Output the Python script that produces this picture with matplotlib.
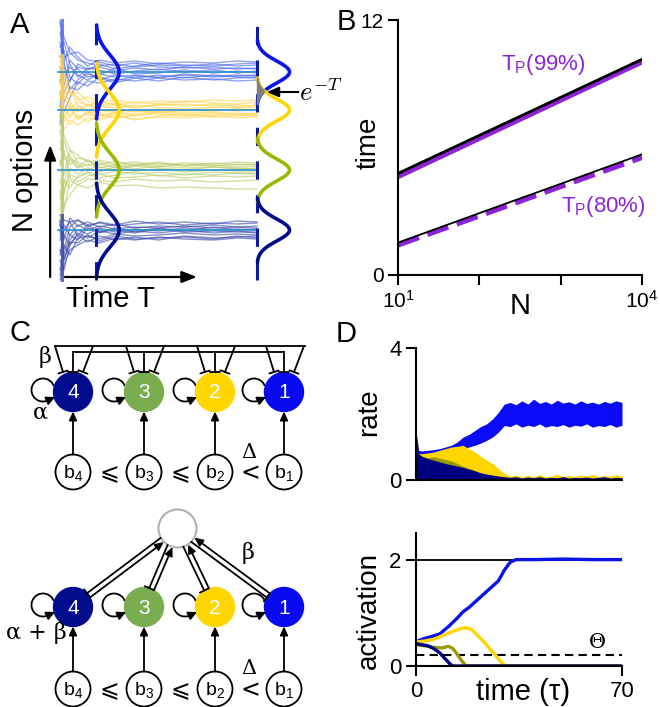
import matplotlib
matplotlib.use('Agg')
import matplotlib.pyplot as plt
import numpy as np
from matplotlib.patches import Circle, Arc
from matplotlib.ticker import NullFormatter

plt.rcParams['font.family'] = ['Liberation Sans', 'DejaVu Sans']
plt.rcParams['mathtext.fontset'] = 'custom'
plt.rcParams['mathtext.rm'] = 'Liberation Sans'
plt.rcParams['mathtext.it'] = 'Liberation Sans:italic'
plt.rcParams['axes.linewidth'] = 1.5

# ---------------- data ----------------
# panel A: noisy accumulators, offsets from each option's level
t_grid = [0, 0.02, 0.05, 0.09, 0.14, 0.2, 0.28, 0.38, 0.5, 0.63, 0.78, 0.9, 1.0]
levels = [20.8, 17.0, 11.0, 5.0]          # option 1 (top) .. option 4 (bottom)
start_spans = [(15.5, 26.0), (15.0, 22.5), (6.0, 16.5), (0.0, 6.5)]
blue_traces = [
    [5.0, 3.5, 2.0, 1.2, 0.9, 0.6, 0.8, 0.5, 0.7, 0.6, 0.8, 0.6, 0.7],
    [-4.5, -3.0, -1.5, -1.8, -0.9, -1.1, -0.7, -0.9, -0.6, -0.8, -0.7, -0.9, -0.8],
    [2.5, 3.0, 0.8, -0.5, 0.4, 0.2, -0.2, 0.1, 0.3, 0.0, 0.2, -0.1, 0.1],
    [-2.0, -4.0, -2.6, -1.0, -1.4, -0.5, -0.9, -0.4, -0.5, -0.3, -0.5, -0.4, -0.3],
    [4.0, 1.5, 1.8, 2.0, 1.2, 1.0, 0.6, 0.9, 0.5, 0.4, 0.5, 0.3, 0.4],
    [0.5, -1.5, 1.2, 0.3, -0.5, -0.3, 0.4, -0.2, -0.1, 0.2, -0.1, 0.1, -0.1],
    [-5.2, -2.0, -0.8, 0.5, 0.2, 0.8, 0.3, 0.6, 0.9, 0.7, 0.6, 0.8, 0.9],
    [1.5, 2.2, -0.5, -1.2, -0.2, -0.6, -1.1, -0.6, -0.9, -0.5, -0.8, -0.6, -0.5],
    [3.0, 0.5, -1.0, 0.8, 0.3, 0.5, 0.1, 0.4, 0.2, 0.5, 0.3, 0.4, 0.3],
    [-3.5, -0.5, 0.5, -0.3, -0.8, -0.2, -0.5, -0.3, -0.6, -0.2, -0.4, -0.3, -0.4],
    [5.2, 1.0, 2.5, 1.5, 0.6, 1.2, 0.9, 1.1, 0.8, 1.0, 0.9, 1.1, 1.0],
    [-1.0, 1.0, -1.8, -0.8, 0.0, -0.8, -0.3, -0.6, -0.3, -0.6, -0.3, -0.5, -0.6],
]
yellow_traces = [
    [5.5, 4.0, 2.5, 1.0, 1.3, 0.8, 1.0, 0.7, 0.9, 0.8, 1.0, 0.9, 1.0],
    [-1.5, -2.0, -1.0, -1.5, -0.8, -1.0, -0.6, -0.9, -0.7, -0.8, -0.6, -0.8, -0.7],
    [3.0, 1.0, 2.0, 0.5, 0.0, 0.4, 0.2, 0.5, 0.3, 0.1, 0.3, 0.2, 0.3],
    [4.5, 2.5, 0.5, -0.8, -0.3, -0.6, -0.2, -0.4, -0.1, -0.3, -0.2, -0.4, -0.3],
    [1.0, 3.0, 1.5, 1.8, 0.9, 0.5, 0.7, 0.3, 0.5, 0.6, 0.4, 0.5, 0.4],
    [2.0, -0.5, -1.5, -0.5, -1.2, -0.4, -0.8, -0.5, -0.4, -0.6, -0.5, -0.3, -0.5],
    [0.0, 1.5, 0.0, 0.8, 0.5, 0.1, -0.2, 0.0, -0.3, 0.0, -0.1, 0.1, 0.0],
    [3.8, 0.5, -0.6, 0.2, -0.5, -0.8, -0.4, -1.0, -0.6, -0.4, -0.7, -0.5, -0.6],
    [2.5, 2.0, 0.8, -0.2, 0.6, 0.3, 0.5, 0.2, 0.6, 0.4, 0.6, 0.3, 0.5],
    [-0.5, -1.2, 0.5, -1.0, -0.2, -0.5, -0.3, -0.6, -0.2, -0.5, -0.3, -0.6, -0.4],
    [5.0, 3.5, 1.8, 1.2, 0.4, 0.9, 0.5, 0.8, 0.6, 0.9, 0.7, 0.6, 0.8],
    [1.5, 0.0, -0.8, 0.4, -0.1, -0.3, 0.1, -0.2, 0.1, -0.1, 0.1, -0.1, 0.1],
]
green_traces = [
    [5.5, 3.5, 2.0, 1.5, 0.8, 1.0, 0.6, 0.8, 0.5, 0.7, 0.6, 0.8, 0.7],
    [-5.0, -3.5, -2.5, -1.5, -1.8, -1.2, -1.6, -1.5, -1.8, -1.7, -1.8, -1.9, -1.9],
    [2.0, 3.0, 1.0, 0.2, 0.6, 0.3, 0.0, 0.4, 0.2, 0.0, 0.3, 0.1, 0.2],
    [-3.0, -1.0, -1.8, -0.6, -0.3, -0.8, -0.5, -0.2, -0.6, -0.4, -0.5, -0.3, -0.4],
    [4.0, 1.5, 0.5, 1.2, 1.0, 0.5, 0.9, 0.4, 0.7, 0.4, 0.5, 0.3, 0.4],
    [-1.0, -2.5, 0.2, -0.4, 0.2, -0.2, 0.3, -0.1, 0.1, -0.2, 0.0, -0.1, -0.1],
    [0.5, 2.0, -0.8, -1.2, -0.6, -0.4, -0.8, -0.7, -0.5, -0.8, -0.6, -0.7, -0.6],
    [-4.0, -1.5, 1.2, 0.6, -0.1, 0.6, 0.2, 0.5, 0.8, 0.4, 0.7, 0.5, 0.6],
    [3.0, 1.0, 1.5, 0.3, 1.0, 0.2, 0.5, 0.1, 0.4, 0.2, 0.3, 0.2, 0.1],
    [-2.0, -4.0, -1.0, -1.5, -0.9, -1.0, -1.2, -0.9, -1.1, -1.0, -1.2, -1.1, -1.0],
    [1.0, -0.5, 2.0, 0.8, 0.4, 0.8, 0.4, 0.6, 0.3, 0.6, 0.4, 0.6, 0.5],
    [-5.5, -2.0, -0.5, -0.8, -0.2, -0.5, -0.1, -0.4, -0.2, -0.5, -0.2, -0.3, -0.3],
]
navy_traces = [
    [1.5, 1.0, 0.8, 1.0, 0.5, 0.7, 0.4, 0.6, 0.8, 0.5, 0.7, 0.6, 0.7],
    [-5.0, -3.5, -2.0, -1.5, -1.0, -1.3, -0.8, -1.0, -0.7, -0.9, -1.0, -0.8, -0.9],
    [-2.0, -3.0, -1.0, 0.0, -0.4, 0.2, -0.2, 0.1, -0.1, 0.2, 0.0, 0.1, 0.0],
    [0.5, -1.0, 1.2, 0.4, 0.8, 0.3, 0.6, 0.2, 0.4, 0.3, 0.5, 0.3, 0.4],
    [-4.0, -1.5, -2.5, -0.8, -0.6, -0.9, -0.4, -0.6, -0.5, -0.3, -0.5, -0.4, -0.5],
    [-1.0, 0.5, -0.5, -1.0, 0.2, -0.2, 0.0, -0.3, 0.1, -0.2, -0.1, -0.2, -0.2],
    [-3.0, -4.0, -1.5, -0.5, -1.2, -0.6, -1.0, -0.7, -1.0, -0.6, -0.8, -0.7, -0.6],
    [0.0, -2.0, 0.3, 1.0, 0.3, 0.8, 0.5, 0.9, 0.6, 0.8, 0.6, 0.9, 0.8],
    [1.0, -0.5, -1.5, -0.3, -0.8, -0.1, -0.4, -0.1, -0.3, 0.0, -0.3, -0.1, -0.3],
    [-4.5, -2.5, -0.5, 0.5, 0.0, 0.4, 0.1, 0.3, 0.2, 0.4, 0.2, 0.3, 0.2],
    [-2.5, 0.0, 0.8, -0.6, 0.5, -0.3, 0.2, -0.2, 0.2, -0.1, 0.3, 0.0, 0.1],
    [0.8, -3.0, -1.2, -1.3, -0.5, -1.1, -0.6, -0.9, -0.8, -0.7, -0.9, -0.6, -0.8],
]

# panel B: time to reach P(correct)
N_vals = [10, 100, 1000, 10000]
t99_sim = [4.64, 6.44, 8.24, 10.04]
t99_fit = [4.78, 6.57, 8.36, 10.15]
t80_sim = [1.42, 2.79, 4.17, 5.54]
t80_fit = [1.52, 2.91, 4.29, 5.68]

# panel C
node_labels = ['4', '3', '2', '1']
bias_labels = [r'b$_4$', r'b$_3$', r'b$_2$', r'b$_1$']
relations = ['⩽', '⩽', '<']

# panel D: firing rate envelopes
t_rate = [0, 0.3, 0.8, 2, 4, 6, 8, 10, 12, 14, 16, 18, 20, 22, 24, 26, 28, 30, 32, 34,
          36, 38, 40, 42, 44, 46, 48, 50, 52, 54, 56, 58, 60, 62, 64, 66, 68, 70]
blue_hi = [0, 1.35, 0.9, 0.88, 0.9, 0.92, 0.95, 1.0, 1.05, 1.15,
           1.3, 1.38, 1.5, 1.62, 1.7, 1.85, 2.05, 2.3, 2.35, 2.28,
           2.4, 2.3, 2.45, 2.32, 2.38, 2.3, 2.42, 2.33, 2.37, 2.3,
           2.4, 2.32, 2.36, 2.3, 2.38, 2.33, 2.4, 2.35]
blue_lo = [0, 0.5, 0.72, 0.74, 0.76, 0.78, 0.8, 0.82, 0.85, 0.9,
           0.95, 1.0, 1.05, 1.12, 1.2, 1.3, 1.45, 1.65, 1.62, 1.7,
           1.6, 1.66, 1.62, 1.7, 1.6, 1.65, 1.62, 1.68, 1.6, 1.66,
           1.63, 1.7, 1.6, 1.65, 1.62, 1.68, 1.6, 1.66]
yellow_hi = [0, 0.9, 0.8, 0.8, 0.82, 0.85, 0.9, 0.95, 1.0, 1.02,
             1.05, 0.95, 0.85, 0.72, 0.6, 0.5, 0.35, 0.2, 0.12, 0.15,
             0.1, 0.14, 0.1, 0.16, 0.1, 0.12, 0.18, 0.1, 0.14, 0.1,
             0.15, 0.12, 0.17, 0.1, 0.14, 0.12, 0.16, 0.12]
yellow_lo = [0, 0.3, 0.45, 0.5, 0.5, 0.48, 0.45, 0.42, 0.4, 0.38,
             0.35, 0.3, 0.25, 0.2, 0.15, 0.1, 0.05, 0.02, 0, 0,
             0, 0, 0, 0, 0, 0, 0, 0, 0, 0,
             0, 0, 0, 0, 0, 0, 0, 0]
olive_hi = [0, 0.9, 0.72, 0.7, 0.68, 0.7, 0.66, 0.62, 0.58, 0.5,
            0.42, 0.35, 0.28, 0.2, 0.12, 0.06, 0.04, 0.03, 0.03, 0.03,
            0.03, 0.03, 0.03, 0.03, 0.03, 0.03, 0.03, 0.03, 0.03, 0.03,
            0.03, 0.03, 0.03, 0.03, 0.03, 0.03, 0.03, 0.03]
olive_lo = [0, 0.3, 0.4, 0.4, 0.38, 0.35, 0.3, 0.25, 0.2, 0.15,
            0.1, 0.05, 0, 0, 0, 0, 0, 0, 0, 0,
            0, 0, 0, 0, 0, 0, 0, 0, 0, 0,
            0, 0, 0, 0, 0, 0, 0, 0]
navy_hi = [0, 1.35, 0.8, 0.72, 0.65, 0.6, 0.55, 0.5, 0.46, 0.42,
           0.38, 0.33, 0.28, 0.22, 0.18, 0.15, 0.12, 0.1, 0.08, 0.1,
           0.06, 0.09, 0.07, 0.1, 0.06, 0.08, 0.07, 0.1, 0.06, 0.08,
           0.07, 0.09, 0.06, 0.08, 0.1, 0.06, 0.08, 0.07]

# panel D: activations
t_blue_act = [0, 1, 3, 5, 8, 11, 14, 16, 18, 20, 22, 24, 26, 28, 30, 32, 34, 36, 40, 50, 60, 70]
blue_act = [0.45, 0.48, 0.52, 0.55, 0.6, 0.74, 0.9, 1.02, 1.1, 1.2, 1.3, 1.4, 1.5, 1.6,
            1.8, 1.95, 2.0, 2.0, 2.0, 2.01, 2.0, 2.0]
t_yellow_act = [0, 3, 6, 9, 12, 15, 17, 19, 21, 23, 25, 27, 29, 30.5, 70]
yellow_act = [0.45, 0.47, 0.5, 0.57, 0.64, 0.7, 0.72, 0.68, 0.57, 0.46, 0.33, 0.2, 0.07, 0, 0]
t_olive_act = [0, 3, 6, 9, 11, 12.5, 14, 15.5, 17, 70]
olive_act = [0.4, 0.38, 0.35, 0.34, 0.37, 0.33, 0.22, 0.1, 0, 0]
t_navy_act = [0, 2, 4, 6, 8, 10, 11.5, 12.5, 70]
navy_act = [0.42, 0.4, 0.38, 0.33, 0.25, 0.13, 0.04, 0, 0]
theta = 0.2
a_max = 2.0

# ---------------- colours ----------------
c_blue, c_yellow, c_green, c_navy = '#0a14e8', '#ffd500', '#9ab800', '#000c8c'
trace_cols = ['#4766ec', '#ffd24a', '#b8cc66', '#3a48aa']
node_cols = ['#000c8c', '#78ad50', '#ffd500', '#0a0af0']
purple = '#8e24d8'
W, H = 660, 707


def px_axes(l, t, r, b):
    return [l / W, 1 - b / H, (r - l) / W, (b - t) / H]


def arrow(ax, start, end, lw=1.3, hl=5, hw=2.3):
    ax.annotate('', xy=end, xytext=start, annotation_clip=False,
                arrowprops=dict(arrowstyle=f'-|>,head_length={hl},head_width={hw}',
                                mutation_scale=1, lw=lw, color='k',
                                shrinkA=0, shrinkB=0))


def tee(ax, start, end, lw=1.3):
    ax.annotate('', xy=end, xytext=start, annotation_clip=False,
                arrowprops=dict(arrowstyle='-[,widthB=3.5,lengthB=0', mutation_scale=1,
                                lw=lw, color='k', shrinkA=0, shrinkB=0))


fig = plt.figure(figsize=(6.6, 7.07), dpi=100)
ax0 = fig.add_axes([0, 0, 1, 1])
ax0.set_xlim(0, W)
ax0.set_ylim(H, 0)
ax0.axis('off')

# ---------------- panel A ----------------
axA = fig.add_axes(px_axes(60, 15, 257, 280))
axA.set_xlim(0, 1)
axA.set_ylim(0, 26.5)
axA.axis('off')
groups = [blue_traces, yellow_traces, green_traces, navy_traces]
for lvl, group, col, span in zip(levels, groups, trace_cols, start_spans):
    for tr in group:
        axA.plot(t_grid, lvl + np.array(tr), color=col, lw=1.0, alpha=0.6, clip_on=False)
    axA.plot([0.01, 0.01], span, color=col, lw=2.2, alpha=0.8, clip_on=False)
for lvl in levels:
    axA.plot([-0.01, 1.0], [lvl, lvl], color='#2f8fc8', lw=1.2, clip_on=False)

line1, line2 = 0.183, 1.0
for tl in [line1, line2]:
    axA.plot([tl, tl], [0, 26.5], color='#0d1a9c', lw=2.2, dashes=[6, 5], clip_on=False)

gcols = [c_blue, c_yellow, c_green, c_navy]
for lvl, col in zip(levels, gcols):
    v = np.linspace(lvl - 4.7, lvl + 4.7, 100)
    axA.plot(line1 + 0.117 * np.exp(-(v - lvl) ** 2 / (2 * 1.7 ** 2)), v, color=col,
             lw=2.6, clip_on=False, solid_capstyle='round')
    v = np.linspace(lvl - 3.2, lvl + 3.2, 100)
    axA.plot(line2 + 0.165 * np.exp(-(v - lvl) ** 2 / (2 * 1.1 ** 2)), v, color=col,
             lw=2.6, clip_on=False, solid_capstyle='round')
v = np.linspace(levels[0] - 3.2, levels[1] + 3.2, 50)
gb = 0.165 * np.exp(-(v - levels[0]) ** 2 / (2 * 1.1 ** 2))
gy = 0.165 * np.exp(-(v - levels[1]) ** 2 / (2 * 1.1 ** 2))
axA.fill_betweenx(v, line2, line2 + np.minimum(gb, gy), color='#7f7f7f', clip_on=False, zorder=3)

arrow(axA, (1.21, 18.8), (1.05, 18.8), lw=1.5, hl=7, hw=3)
axA.text(1.215, 18.8, r'$e^{-T}$', math_fontfamily='cm', fontsize=19, va='center', ha='left')
arrow(axA, (-0.05, 0.3), (-0.05, 13.5), lw=1.6, hl=9, hw=3.5)
arrow(axA, (0.025, 0.3), (0.695, 0.3), lw=1.6, hl=9, hw=3.5)
axA.text(-0.18, 11.0, 'N options', rotation=90, fontsize=21, ha='center', va='center')
axA.text(0.254, -1.9, 'Time T', fontsize=21, ha='center', va='center')

# ---------------- panel B ----------------
axB = fig.add_axes(px_axes(398, 20, 642, 275))
axB.set_facecolor('none')
axB.set_xscale('log')
axB.plot(N_vals, t99_sim, color=purple, lw=4)
axB.plot(N_vals, t99_fit, color='k', lw=2)
axB.plot(N_vals, t80_sim, color=purple, lw=4, dashes=[4, 1.6])
axB.plot(N_vals, t80_fit, color='k', lw=1.3)
axB.set_xlim(10, 1e4)
axB.set_ylim(0, 12)
axB.set_yticks([0, 12])
axB.set_xticks([10, 1e4])
axB.set_xticklabels([r'$10^1$', r'$10^4$'])
axB.set_xticks([100, 1000], minor=True)
axB.xaxis.set_minor_formatter(NullFormatter())
axB.tick_params(which='both', length=7, width=1.5, labelsize=15)
axB.spines[['top', 'right']].set_visible(False)
axB.set_ylabel('time', fontsize=20)
axB.yaxis.set_label_coords(-0.066, 0.52)
axB.set_xlabel('N', fontsize=21)
axB.xaxis.set_label_coords(0.5, -0.065)
axB.text(0.594, 0.824, r'T$_\mathrm{P}$(99%)', color=purple, fontsize=16,
         transform=axB.transAxes, ha='center', va='center')
axB.text(0.84, 0.267, r'T$_\mathrm{P}$(80%)', color=purple, fontsize=16,
         transform=axB.transAxes, ha='center', va='center')

# ---------------- panel C ----------------
node_x = [73, 144, 215, 284]
r_node, r_bias, r_hub = 19.5, 17.5, 19
hub = np.array([177.5, 528.5])


def network(ny, by):
    for x, lab, col, bl in zip(node_x, node_labels, node_cols, bias_labels):
        ax0.add_patch(Circle((x, ny), r_node, color=col, zorder=3))
        ax0.text(x, ny + 1, lab, color='white', ha='center', va='center', fontsize=15, zorder=4)
        ax0.add_patch(Circle((x, by), r_bias, facecolor='white', edgecolor='k', lw=1.3, zorder=3))
        ax0.text(x, by + 1, bl, ha='center', va='center', fontsize=14, zorder=4)
        arrow(ax0, (x, by - r_bias), (x, ny + r_node))
        ax0.add_patch(Arc((x - 30, ny - 2), 23, 23, theta1=60, theta2=340, lw=1.3, color='k'))
        arrow(ax0, (x - 24.5, ny + 8), (x - 18, ny + 5), hl=5, hw=2.5)
    for k, rel in enumerate(relations):
        xm = (node_x[k] + node_x[k + 1]) / 2 + 1
        ax0.text(xm, by + 1, rel, ha='center', va='center', fontsize=17,
                 family=['DejaVu Sans'])
    ax0.text(249, by - 20, 'Δ', ha='center', va='center', fontsize=15, family='DejaVu Serif')


network(392, 472)
network(607, 689)

# top: mutual inhibition bars
ax0.plot([55, 305], [346, 346], color='k', lw=1.3)
ax0.plot([73, 284], [352, 352], color='k', lw=1.3)
for x in node_x:
    tee(ax0, (x - 18, 346), (x - 10, 372))
    tee(ax0, (x + 20, 346), (x + 10, 372))
    tee(ax0, (x, 352), (x, 372))
ax0.text(45, 357, 'β', fontsize=16, ha='center', va='center', family='DejaVu Serif')
ax0.text(40, 413, 'α', fontsize=16, ha='center', va='center', family='DejaVu Serif')

# bottom: shared inhibitory pool
ax0.add_patch(Circle(hub, r_hub, facecolor='white', edgecolor='#b0b0b0', lw=1.5, zorder=3))
for x in node_x:
    node = np.array([x, 607.0])
    d = (hub - node) / np.linalg.norm(hub - node)
    p = np.array([-d[1], d[0]]) * 2.6
    n_edge, h_edge = node + d * r_node, hub - d * r_hub
    arrow(ax0, tuple(n_edge + p), tuple(h_edge + p), hl=5, hw=2.3)
    tee(ax0, tuple(h_edge - p), tuple(n_edge - p))
ax0.text(248, 553, 'β', fontsize=16, ha='center', va='center', family='DejaVu Serif')
ax0.text(36, 633, 'α + β', fontsize=16, ha='center', va='center', family='DejaVu Serif')

# ---------------- panel D ----------------
axR = fig.add_axes(px_axes(416, 348, 622, 480))
axR.set_facecolor('none')
axR.fill_between(t_rate, blue_lo, blue_hi, color='#0a0af5', lw=0)
axR.fill_between(t_rate, yellow_lo, yellow_hi, color='#ffd500', lw=0)
axR.fill_between(t_rate, olive_lo, olive_hi, color='#999900', lw=0)
axR.fill_between(t_rate, 0, navy_hi, color='#000080', lw=0)
axR.set_xlim(0, 70)
axR.set_ylim(0, 4)
axR.set_yticks([0, 4])
axR.tick_params(axis='x', length=0, labelbottom=False)
axR.tick_params(axis='y', length=7, width=1.5, labelsize=16)
axR.spines[['top', 'right']].set_visible(False)
axR.set_ylabel('rate', fontsize=20)
axR.yaxis.set_label_coords(-0.165, 0.51)

axAct = fig.add_axes(px_axes(416, 533, 622, 666))
axAct.set_facecolor('none')
axAct.axhline(a_max, color='k', lw=1.3)
axAct.axhline(theta, color='k', lw=1.5, dashes=[4, 2.5])
axAct.plot(t_blue_act, blue_act, color=c_blue, lw=2.4)
axAct.plot(t_yellow_act, yellow_act, color=c_yellow, lw=2.4)
axAct.plot(t_olive_act, olive_act, color='#999900', lw=2.4)
axAct.plot(t_navy_act, navy_act, color='#000080', lw=2.4)
axAct.set_xlim(0, 70)
axAct.set_ylim(0, 2.5)
axAct.set_yticks([0, 2])
axAct.set_xticks([0, 70])
axAct.tick_params(length=7, width=1.5, labelsize=16)
axAct.spines[['top', 'right']].set_visible(False)
axAct.set_ylabel('activation', fontsize=20)
axAct.yaxis.set_label_coords(-0.165, 0.42)
axAct.set_xlabel('time (τ)', fontsize=21)
axAct.xaxis.set_label_coords(0.52, -0.09)
axAct.text(61.5, 0.45, 'Θ', fontsize=15, ha='center', va='center', family='DejaVu Serif')

# panel letters
for lab, x, y in [('A', 20, 25), ('B', 346, 22), ('C', 20, 333), ('D', 346, 334)]:
    fig.text(x / W, 1 - y / H, lab, fontsize=21, ha='center', va='center')

fig.savefig('out.png', dpi=100)
